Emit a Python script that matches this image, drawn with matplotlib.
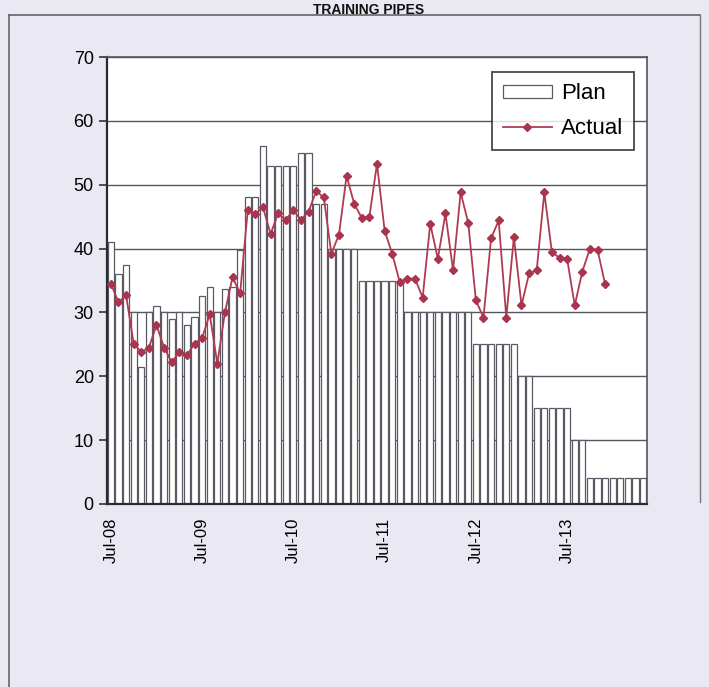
import numpy as np
import matplotlib.pyplot as plt
from matplotlib.lines import Line2D

plt.rcParams["font.family"] = ["Liberation Sans", "DejaVu Sans"]

# monthly values from Jul-08 onwards
plan = [41, 36, 37.5, 30, 21.5, 30, 31, 30, 29, 30, 28, 29.3, 32.5, 34, 30, 33.6, 34, 39.7,
        48, 48, 56, 53, 53, 53, 53, 55, 55, 47, 47, 40, 40, 40, 40,
        35, 35, 35, 35, 35, 35,
        30, 30, 30, 30, 30, 30, 30, 30, 30,
        25, 25, 25, 25, 25, 25,
        20, 20,
        15, 15, 15, 15, 15,
        10, 10,
        4, 4, 4, 4, 4, 4, 4, 4]
actual = [34.5, 31.6, 32.7, 25.1, 23.8, 24.5, 28, 24.5, 22.2, 23.8, 23.3, 25.1, 26, 29.7,
          22, 30, 35.5, 33, 46, 45.4, 46.5, 42.3, 45.5, 44.5, 46, 44.5, 45.8, 49, 48,
          39.2, 42.2, 51.4, 47, 44.8, 45, 53.3, 42.8, 39.2, 34.7, 35.3, 35.3, 32.3, 43.9,
          38.4, 45.5, 36.6, 48.8, 44, 31.9, 29.2, 41.6, 44.4, 29.2, 41.8, 31.1, 36.1, 36.6,
          48.8, 39.4, 38.6, 38.4, 31.1, 36.4, 40, 39.8, 34.4]
tick_labels = ["Jul-08", "Jul-09", "Jul-10", "Jul-11", "Jul-12", "Jul-13"]

bg = "#e9e8f3"
fig = plt.figure(figsize=(7.09, 6.87), dpi=100, facecolor=bg)
ax = fig.add_axes([0.151, 0.2664, 0.7615, 0.6506])
ax.set_facecolor("white")

x = np.arange(len(plan))
bars = ax.bar(x, plan, width=0.82, color="white", edgecolor="#5a5a66", linewidth=0.9,
              label="Plan", zorder=2)
xa = np.arange(len(actual))
line, = ax.plot(xa, actual, color="#b03a52", linewidth=1.3, marker="D", markersize=4,
                markerfacecolor="#a8354d", markeredgecolor="#a8354d", label="Actual", zorder=3)

ax.set_xlim(-0.5, len(plan) - 0.5)
ax.set_ylim(0, 70)
ax.set_yticks(range(0, 71, 10))
ax.yaxis.grid(True, color="#55555f", linewidth=1.0, zorder=0)
ax.set_axisbelow(True)
ax.set_xticks(np.arange(0, 61, 12))
ax.set_xticklabels(tick_labels, rotation=90, fontsize=12)
ax.tick_params(axis="y", labelsize=13, direction="out", length=6, width=1.2, color="#333")
ax.tick_params(axis="x", length=0, pad=10)
for side in ["left", "bottom"]:
    ax.spines[side].set_color("#2a2a33")
    ax.spines[side].set_linewidth(1.6)
for side in ["top", "right"]:
    ax.spines[side].set_color("#55555f")
    ax.spines[side].set_linewidth(1.2)

leg = ax.legend([bars, line], ["Plan", "Actual"], loc="upper right",
                bbox_to_anchor=(0.976, 0.966), borderaxespad=0,
                fontsize=16, frameon=True, fancybox=False, handlelength=2.2,
                handleheight=0.5, labelspacing=0.6, borderpad=0.5, handletextpad=0.4)
leg.get_frame().set_edgecolor("#1a1a22")
leg.get_frame().set_linewidth(1.3)

# page frame and heading of the scanned page
fig.text(0.52, 0.995, "TRAINING PIPES", ha="center", va="top", fontsize=10,
         fontweight="bold", color="#111")
fig.add_artist(Line2D([0.012, 0.012], [0.0, 0.978], transform=fig.transFigure,
                      color="#666", linewidth=1.2))
fig.add_artist(Line2D([0.012, 0.988], [0.978, 0.978], transform=fig.transFigure,
                      color="#666", linewidth=1.2))
fig.add_artist(Line2D([0.988, 0.988], [0.978, 0.27], transform=fig.transFigure,
                      color="#777", linewidth=1.0))

fig.savefig("out.png", dpi=100, facecolor=bg)
